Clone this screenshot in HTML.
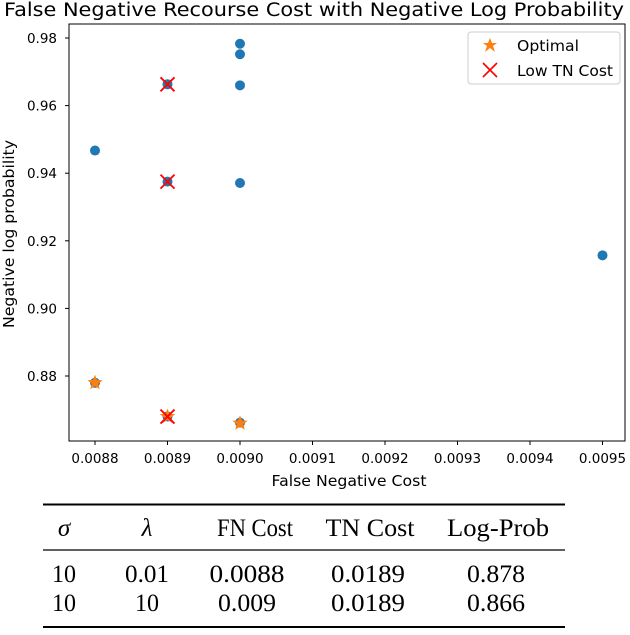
<!DOCTYPE html>
<html><head><meta charset="utf-8"><style>
body{margin:0;background:#fff;width:630px;height:630px;overflow:hidden}
svg text{font-family:"DejaVu Sans","Liberation Sans",sans-serif}
.tb{font-family:"Liberation Serif",serif;font-size:25px;fill:#000}
</style></head><body>
<svg id="chart" width="630" height="630" xmlns="http://www.w3.org/2000/svg">
<text x="314" y="16" font-size="18.5" text-anchor="middle" textLength="620" lengthAdjust="spacingAndGlyphs">False Negative Recourse Cost with Negative Log Probability</text>
<g id="plot"></g>
<rect x="69" y="24" width="556" height="417" fill="none" stroke="#000" stroke-width="1"/>
<text x="349" y="486" font-size="15.5" text-anchor="middle" textLength="155" lengthAdjust="spacingAndGlyphs">False Negative Cost</text>
<text transform="translate(14,234) rotate(-90)" font-size="15.5" text-anchor="middle" textLength="188" lengthAdjust="spacingAndGlyphs">Negative log probability</text>
<g>
<rect x="468" y="32" width="152" height="52" rx="3" fill="#fff" stroke="#ccc"/>
<polygon points="490,38 492,43 497,43 493,46 495,52 490,48 485,52 487,46 483,43 488,43" fill="#ff7f0e"/>
<text x="517" y="51" font-size="15" textLength="62" lengthAdjust="spacingAndGlyphs">Optimal</text>
<path d="M483,63 L497,77 M497,63 L483,77" stroke="#ff0000" stroke-width="1.6"/>
<text x="517" y="76" font-size="15" textLength="96" lengthAdjust="spacingAndGlyphs">Low TN Cost</text>
</g>
<g>
<line x1="43" y1="504.5" x2="565" y2="504.5" stroke="#000" stroke-width="2"/>
<line x1="43" y1="550" x2="565" y2="550" stroke="#000" stroke-width="1.2"/>
<line x1="43" y1="627" x2="565" y2="627" stroke="#000" stroke-width="2"/>
<g class="tb" text-anchor="middle">
<text class="tb" x="64" y="536" font-style="italic">σ</text>
<text class="tb" x="147" y="536" font-style="italic">λ</text>
<text class="tb" x="255" y="536" textLength="76" lengthAdjust="spacingAndGlyphs">FN Cost</text>
<text class="tb" x="370" y="536" textLength="89" lengthAdjust="spacingAndGlyphs">TN Cost</text>
<text class="tb" x="498" y="536" textLength="102" lengthAdjust="spacingAndGlyphs">Log-Prob</text>
<text class="tb" x="64" y="582" textLength="24" lengthAdjust="spacingAndGlyphs">10</text>
<text class="tb" x="147" y="582" textLength="44" lengthAdjust="spacingAndGlyphs">0.01</text>
<text class="tb" x="247" y="582" textLength="75" lengthAdjust="spacingAndGlyphs">0.0088</text>
<text class="tb" x="368" y="582" textLength="74" lengthAdjust="spacingAndGlyphs">0.0189</text>
<text class="tb" x="496" y="582" textLength="58" lengthAdjust="spacingAndGlyphs">0.878</text>
<text class="tb" x="64" y="611" textLength="24" lengthAdjust="spacingAndGlyphs">10</text>
<text class="tb" x="147" y="611" textLength="24" lengthAdjust="spacingAndGlyphs">10</text>
<text class="tb" x="247" y="611" textLength="58" lengthAdjust="spacingAndGlyphs">0.009</text>
<text class="tb" x="368" y="611" textLength="74" lengthAdjust="spacingAndGlyphs">0.0189</text>
<text class="tb" x="496" y="611" textLength="58" lengthAdjust="spacingAndGlyphs">0.866</text>
</g></g>
</svg>
<script>
const xTicks=[0.0088,0.0089,0.0090,0.0091,0.0092,0.0093,0.0094,0.0095];
const xTickLabels=["0.0088","0.0089","0.0090","0.0091","0.0092","0.0093","0.0094","0.0095"];
const yTicks=[0.88,0.90,0.92,0.94,0.96,0.98];
const yTickLabels=["0.88","0.90","0.92","0.94","0.96","0.98"];
const allX=[0.0088,0.0088,0.0089,0.0089,0.0089,0.0090,0.0090,0.0090,0.0090,0.0090,0.0095];
const allY=[0.9467,0.878,0.9663,0.9375,0.868,0.9783,0.9752,0.9660,0.9371,0.8662,0.9157];
const optX=[0.0088,0.0089,0.0090];
const optY=[0.878,0.868,0.866];
const lowX=[0.0089,0.0089,0.0089];
const lowY=[0.9663,0.9375,0.868];
const sx=v=>95+(v-0.0088)/0.0001*72.5;
const sy=v=>376-(v-0.88)/0.02*67.6;
const g=document.getElementById('plot');
const NS='http://www.w3.org/2000/svg';
function mk(t,a){const e=document.createElementNS(NS,t);for(const k in a)e.setAttribute(k,a[k]);g.appendChild(e);return e;}
xTicks.forEach((v,i)=>{
 const l=mk('line',{x1:sx(v),x2:sx(v),y1:441,y2:445,stroke:'#000'});
 
 
 const t=mk('text',{x:sx(v),y:463,'font-size':13.5,'text-anchor':'middle'});t.textContent=xTickLabels[i];
 
 
});
yTicks.forEach((v,i)=>{
 const l=mk('line',{x1:65,x2:69,y1:sy(v),y2:sy(v),stroke:'#000'});
 
 
 const t=mk('text',{x:57,y:sy(v)+5,'font-size':13.5,'text-anchor':'end'});t.textContent=yTickLabels[i];
 
 
});
allX.forEach((v,i)=>{
 const c=mk('circle',{cx:sx(v),cy:sy(allY[i]),r:5,fill:'#1f77b4'});
 
 
});
function star(cx,cy,R){let p=[];for(let k=0;k<10;k++){const r=k%2?R*0.42:R;const a=-Math.PI/2+k*Math.PI/5;p.push((cx+r*Math.cos(a)).toFixed(1)+','+(cy+r*Math.sin(a)).toFixed(1));}return p.join(' ');}
optX.forEach((v,i)=>{
 const s=mk('polygon',{points:star(sx(v),sy(optY[i]),8),fill:'#ff7f0e'});
 
 
});
lowX.forEach((v,i)=>{
 const x=sx(v),y=sy(lowY[i]);
 const p=mk('path',{d:`M${x-7},${y-7}L${x+7},${y+7}M${x+7},${y-7}L${x-7},${y+7}`,stroke:'#ff0000','stroke-width':1.8});
 
 
});
</script>
</body></html>
